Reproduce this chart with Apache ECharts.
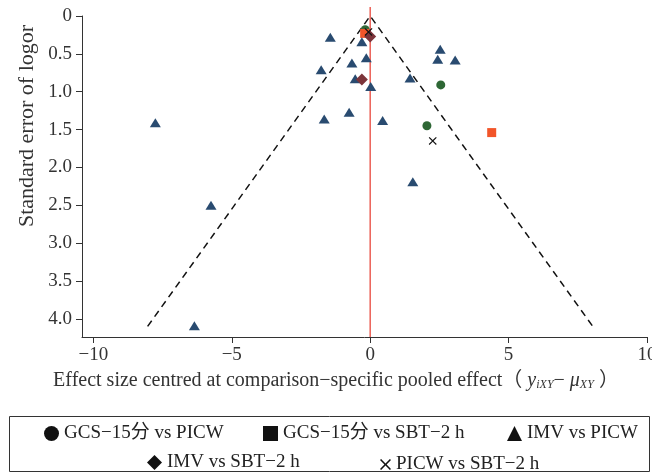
<!DOCTYPE html>
<html>
<head>
<meta charset="utf-8">
<script src="https://cdn.jsdelivr.net/npm/echarts@6/dist/echarts.min.js"></script>
<style>
  html, body { margin: 0; padding: 0; background: #fff; }
  #funnel { width: 652px; height: 476px; }
</style>
</head>
<body>
<div id="funnel"></div>
<script>
  // points as [centred effect size, standard error]
  var gcsPicw = [[-0.18, 0.18], [2.55, 0.91], [2.05, 1.45]];
  var gcsSbt = [[-0.2, 0.23], [4.39, 1.54]];
  var imvPicw = [
    [-1.44, 0.28], [-0.30, 0.34], [-0.14, 0.55], [-0.66, 0.62], [-1.77, 0.71],
    [-0.54, 0.83], [0.02, 0.93], [1.44, 0.82], [2.53, 0.44], [2.44, 0.57],
    [3.07, 0.58], [-0.76, 1.27], [-1.66, 1.36], [0.45, 1.38], [1.54, 2.19],
    [-7.76, 1.41], [-5.75, 2.50], [-6.35, 4.09]
  ];
  var imvSbt = [[0.0, 0.27], [-0.30, 0.84]];
  var picwSbt = [[-0.06, 0.21], [2.26, 1.65]];

  // pseudo 95% limits (x = ±1.96 * se)
  var funnelX = [-8.04, 0, 8.04];
  var funnelY = [4.1, 0, 4.1];
  var zeroLineY = [-0.12, 4.24];

  var xTicks = [-10, -5, 0, 5, 10];
  var yTicks = [0, 0.5, 1, 1.5, 2, 2.5, 3, 3.5, 4];

  var names = ["GCS−15分 vs PICW", "GCS−15分 vs SBT−2 h", "IMV vs PICW", "IMV vs SBT−2 h", "PICW vs SBT−2 h"];

  var serif = "'Liberation Serif', 'Noto Sans CJK SC', serif";
  var crossPath = "path://M0,1L1,0L5,4L9,0L10,1L6,5L10,9L9,10L5,6L1,10L0,9L4,5Z";

  // one legend per entry so each sits where it does in the figure
  var legendIcons = ["circle", "rect", "triangle", "diamond", crossPath];
  var legendPos = [[39, 419], [258, 419], [502, 419], [142, 448], [375, 450]];
  var legendIconSize = [15, 15, 15, 15, 11];
  var legends = names.map(function (n, i) {
    return {
      left: legendPos[i][0],
      top: legendPos[i][1],
      itemWidth: legendIconSize[i],
      itemHeight: legendIconSize[i],
      textStyle: { fontSize: 19, color: "#222", fontFamily: serif },
      data: [{ name: n, icon: legendIcons[i], itemStyle: { color: "#111" } }]
    };
  });

  var myChart = echarts.init(document.getElementById("funnel"));
  myChart.setOption({
    animation: false,
    textStyle: { fontFamily: serif },
    grid: { left: 82, right: 5, top: 16, bottom: 139, outerBoundsMode: "none" },
    xAxis: {
      type: "value",
      min: -10.41,
      max: 10,
      splitLine: { show: false },
      axisLine: { onZero: false, lineStyle: { color: "#333", width: 1 } },
      axisTick: { customValues: xTicks, length: 6, lineStyle: { color: "#333" } },
      axisLabel: {
        customValues: xTicks,
        margin: 9,
        fontSize: 19,
        color: "#333",
        fontFamily: serif,
        formatter: function (v) {
          return String(v).replace("-", "−");
        }
      }
    },
    yAxis: {
      type: "value",
      inverse: true,
      min: 0,
      max: 4.24,
      splitLine: { show: false },
      axisLine: { onZero: false, lineStyle: { color: "#333", width: 1 } },
      axisTick: { customValues: yTicks, length: 6, lineStyle: { color: "#333" } },
      axisLabel: {
        customValues: yTicks,
        margin: 10,
        fontSize: 19,
        color: "#333",
        fontFamily: serif,
        formatter: function (v) {
          return v === 0 ? "0" : v.toFixed(1);
        }
      }
    },
    legend: legends,
    graphic: [
      {
        type: "rect",
        shape: { x: 9.5, y: 416.5, width: 640, height: 55 },
        style: { fill: "none", stroke: "#333", lineWidth: 1 }
      },
      {
        type: "text",
        x: 27,
        y: 126,
        rotation: Math.PI / 2,
        style: {
          text: "Standard error of logor",
          font: "22px " + serif,
          fill: "#333",
          align: "center",
          verticalAlign: "middle"
        }
      },
      {
        type: "text",
        x: 336,
        y: 381,
        style: {
          text: "Effect size centred at comparison−specific pooled effect（ {i|y}{s|iXY}−{i| μ}{s|XY} ）",
          font: "20px " + serif,
          fill: "#333",
          align: "center",
          verticalAlign: "middle",
          rich: {
            i: { fontSize: 20, fontStyle: "italic", fontFamily: serif, lineHeight: 24, verticalAlign: "middle" },
            s: { fontSize: 12, fontStyle: "italic", fontFamily: serif, lineHeight: 12, verticalAlign: "bottom", padding: [0, 0, 2, 0] }
          }
        }
      }
    ],
    series: [
      {
        type: "line",
        data: zeroLineY.map(function (y) { return [0, y]; }),
        symbol: "none",
        clip: false,
        silent: true,
        z: 1,
        lineStyle: { color: "#e8473c", width: 1.3 }
      },
      {
        type: "line",
        data: funnelX.map(function (x, i) { return [x, funnelY[i]]; }),
        symbol: "none",
        silent: true,
        z: 1,
        lineStyle: { color: "#111", width: 1.5, type: [7, 5] }
      },
      {
        name: names[0],
        type: "scatter",
        symbol: "circle",
        symbolSize: 9,
        z: 3,
        itemStyle: { color: "#2e6735", opacity: 1 },
        data: gcsPicw
      },
      {
        name: names[1],
        type: "scatter",
        symbol: "rect",
        symbolSize: 9,
        z: 3,
        itemStyle: { color: "#f25529", opacity: 1 },
        data: gcsSbt
      },
      {
        name: names[2],
        type: "scatter",
        symbol: "triangle",
        symbolSize: [11, 9],
        z: 3,
        itemStyle: { color: "#294b70", opacity: 1 },
        data: imvPicw
      },
      {
        name: names[3],
        type: "scatter",
        symbol: "diamond",
        symbolSize: 12,
        z: 4,
        itemStyle: { color: "#7c343a", opacity: 1 },
        data: imvSbt
      },
      {
        name: names[4],
        type: "scatter",
        symbol: crossPath,
        symbolSize: 8,
        z: 5,
        itemStyle: { color: "#111", opacity: 1 },
        data: picwSbt
      }
    ]
  });
</script>
</body>
</html>
